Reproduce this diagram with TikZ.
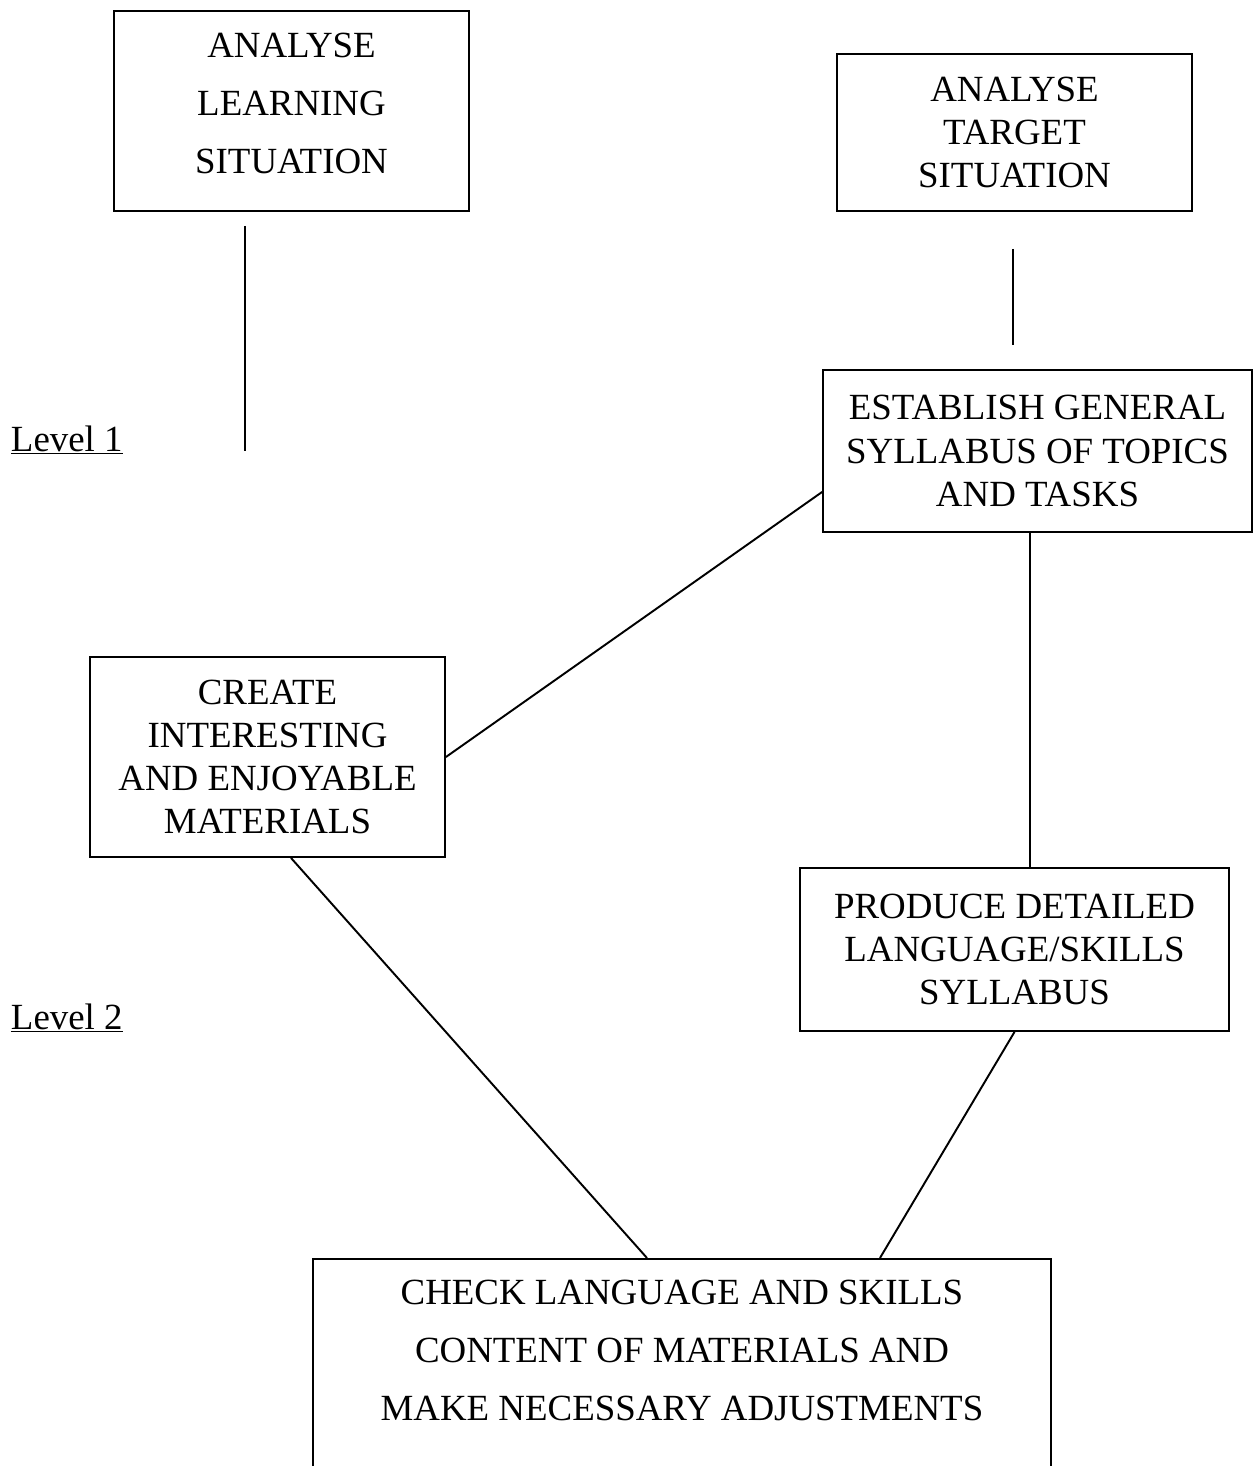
\documentclass[tikz,border=0pt]{standalone}
\usepackage{fontspec}
\setmainfont{Liberation Serif}
\usepackage{tikz}
\usetikzlibrary{positioning,calc}

\begin{document}
\begin{tikzpicture}[x=0.02cm, y=-0.02cm, line width=1.1pt,
  stage/.style={draw, align=center, inner sep=0pt, font=\fontsize{21}{24.5}\selectfont},
  widestage/.style={stage, font=\fontsize{21}{33}\selectfont},
  levellabel/.style={anchor=base west, inner sep=0pt, font=\fontsize{21}{24.5}\selectfont}]
\useasboundingbox (0,0) rectangle (1255,1466);
\clip (0,0) rectangle (1255,1466);
% top row
\node[widestage, minimum width=7.1cm, minimum height=4cm, text depth=0.32cm] (learn) at (291.5,111) {ANALYSE\\LEARNING\\SITUATION};
\node[stage, minimum width=7.1cm, minimum height=3.14cm] (target) at (1014.5,132.5) {ANALYSE\\TARGET\\SITUATION};
\coordinate (learnend) at (245,226); \coordinate (learnfoot) at (245,451);
\coordinate (targetend) at (1013,249); \coordinate (targetfoot) at (1013,345);
\draw (learnend) -- (learnfoot);
\draw (targetend) -- (targetfoot);
% level 1
\node[levellabel] (lvlone) at (10,451) {\underline{Level 1}};
\node[stage, minimum width=8.58cm, minimum height=3.24cm] (general) at (1037.5,451) {ESTABLISH GENERAL\\SYLLABUS OF TOPICS\\AND TASKS};
\node[stage, minimum width=7.1cm, minimum height=4cm] (create) at (267.5,757) {CREATE\\INTERESTING\\AND ENJOYABLE\\MATERIALS};
\node[stage, minimum width=8.58cm, minimum height=3.26cm] (detail) at (1014.5,949.5) {PRODUCE DETAILED\\LANGUAGE/SKILLS\\SYLLABUS};
% level 2
\node[levellabel] (lvltwo) at (10,1029) {\underline{Level 2}};
\node[widestage, anchor=north, minimum width=14.76cm, inner ysep=0.42cm, text depth=4cm] (check) at (682,1258) {CHECK LANGUAGE AND SKILLS\\CONTENT OF MATERIALS AND\\MAKE NECESSARY ADJUSTMENTS};
\draw ($(general.north west)!0.75!(general.south west)$) -- (create.east);
\draw ([xshift=-0.15cm]general.south) -- ([xshift=-0.15cm]general.south |- detail.north);
\draw ([xshift=0.47cm]create.south) -- ([xshift=-0.7cm]check.north);
\draw (detail.south) -- ([xshift=3.96cm]check.north);
\end{tikzpicture}
\end{document}
